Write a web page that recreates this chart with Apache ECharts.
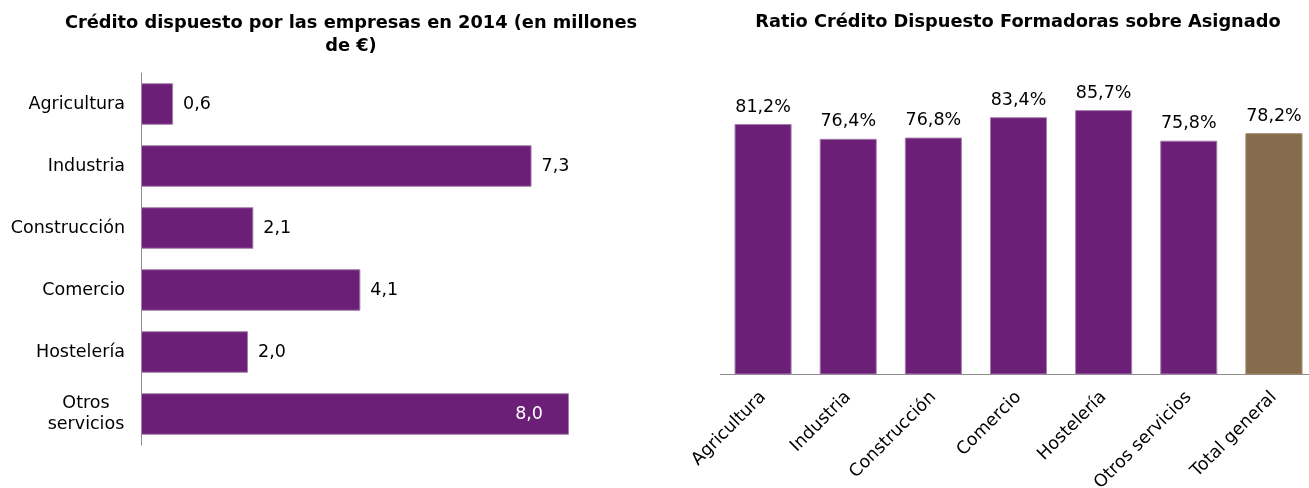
<!DOCTYPE html>
<html><head><meta charset="utf-8">
<script src="https://cdn.jsdelivr.net/npm/echarts@6/dist/echarts.min.js"></script>
<style>html,body{margin:0;padding:0;background:#fff}#c{width:1309px;height:488px}</style>
</head><body><div id="c"></div>
<script>
const leftCategories = ['Agricultura','Industria','Construcción','Comercio','Hostelería','Otros\nservicios'];
const leftValues = [0.6, 7.3, 2.1, 4.1, 2.0, 8.0];
const rightCategories = ['Agricultura','Industria','Construcción','Comercio','Hostelería','Otros servicios','Total general'];
const rightValues = [81.2, 76.4, 76.8, 83.4, 85.7, 75.8, 78.2];
const leftTitle = 'Crédito dispuesto por las empresas en 2014 (en millones\nde €)';
const rightTitle = 'Ratio Crédito Dispuesto Formadoras sobre Asignado';

const PURPLE = '#6c1f77', BROWN = '#866c4c', EDGE = '#a57fad', AXIS = '#8c8c8c';
const FONT = '"DejaVu Sans", Verdana, sans-serif';
const FS = 17.5, TFS = 17.8;
const fmt = v => v.toFixed(1).replace('.', ',');

const chart = echarts.init(document.getElementById('c'));
chart.setOption({
  animation: false,
  textStyle: {fontFamily: FONT},
  title: [
    {text: leftTitle, left: 346, top: 7, textAlign: 'center',
     textStyle: {fontFamily: FONT, fontWeight: 'bold', fontSize: TFS, color: '#000', lineHeight: 23, align: 'center'}},
    {text: rightTitle, left: 1013, top: 8, textAlign: 'center',
     textStyle: {fontFamily: FONT, fontWeight: 'bold', fontSize: TFS, color: '#000'}}
  ],
  grid: [
    {left: 141, top: 73, width: 481.5, height: 372, outerBoundsMode: 'none', containLabel: false},
    {left: 720.5, top: 66, width: 596, height: 308.5, outerBoundsMode: 'none', containLabel: false}
  ],
  xAxis: [
    {gridIndex: 0, type: 'value', min: 0, max: 9, show: false},
    {gridIndex: 1, type: 'category', data: rightCategories,
     axisLine: {lineStyle: {color: AXIS, width: 1}},
     axisTick: {length: 5, lineStyle: {color: AXIS}},
     axisLabel: {rotate: 45, fontSize: FS, color: '#000', fontFamily: FONT, margin: 20, interval: 0}}
  ],
  yAxis: [
    {gridIndex: 0, type: 'category', data: leftCategories, inverse: true,
     axisLine: {lineStyle: {color: AXIS, width: 1}},
     axisTick: {length: 5, lineStyle: {color: AXIS}},
     axisLabel: {fontSize: FS, color: '#000', fontFamily: FONT, margin: 16, align: 'right', lineHeight: 21,
       formatter: v => v.indexOf('\n') >= 0 ? v.split('\n').map(s => '{c|' + s + '}').join('\n') : v,
       rich: {c: {width: 78, align: 'center', fontSize: FS, fontFamily: FONT, color: '#000', lineHeight: 21}}}},
    {gridIndex: 1, type: 'value', min: 0, max: 100, show: false}
  ],
  series: [
    {type: 'bar', xAxisIndex: 0, yAxisIndex: 0, barCategoryGap: '33%',
     data: leftValues.map((v, i) => ({
       value: v,
       label: i === leftValues.length - 1
         ? {show: true, position: 'insideRight', distance: 26, color: '#fff'}
         : {show: true, position: 'right', distance: 10, color: '#000'}
     })),
     itemStyle: {color: PURPLE, borderColor: EDGE, borderWidth: 1},
     label: {fontSize: FS, fontFamily: FONT, formatter: p => fmt(p.value)}},
    {type: 'bar', xAxisIndex: 1, yAxisIndex: 1, barCategoryGap: '33%',
     data: rightValues.map((v, i) => ({
       value: v,
       itemStyle: {color: i === rightValues.length - 1 ? BROWN : PURPLE,
                   borderColor: i === rightValues.length - 1 ? '#9c8568' : EDGE, borderWidth: 1}
     })),
     label: {show: true, position: 'top', distance: 8, fontSize: FS, fontFamily: FONT, color: '#000',
             formatter: p => fmt(p.value) + '%'}}
  ]
});
</script></body></html>
